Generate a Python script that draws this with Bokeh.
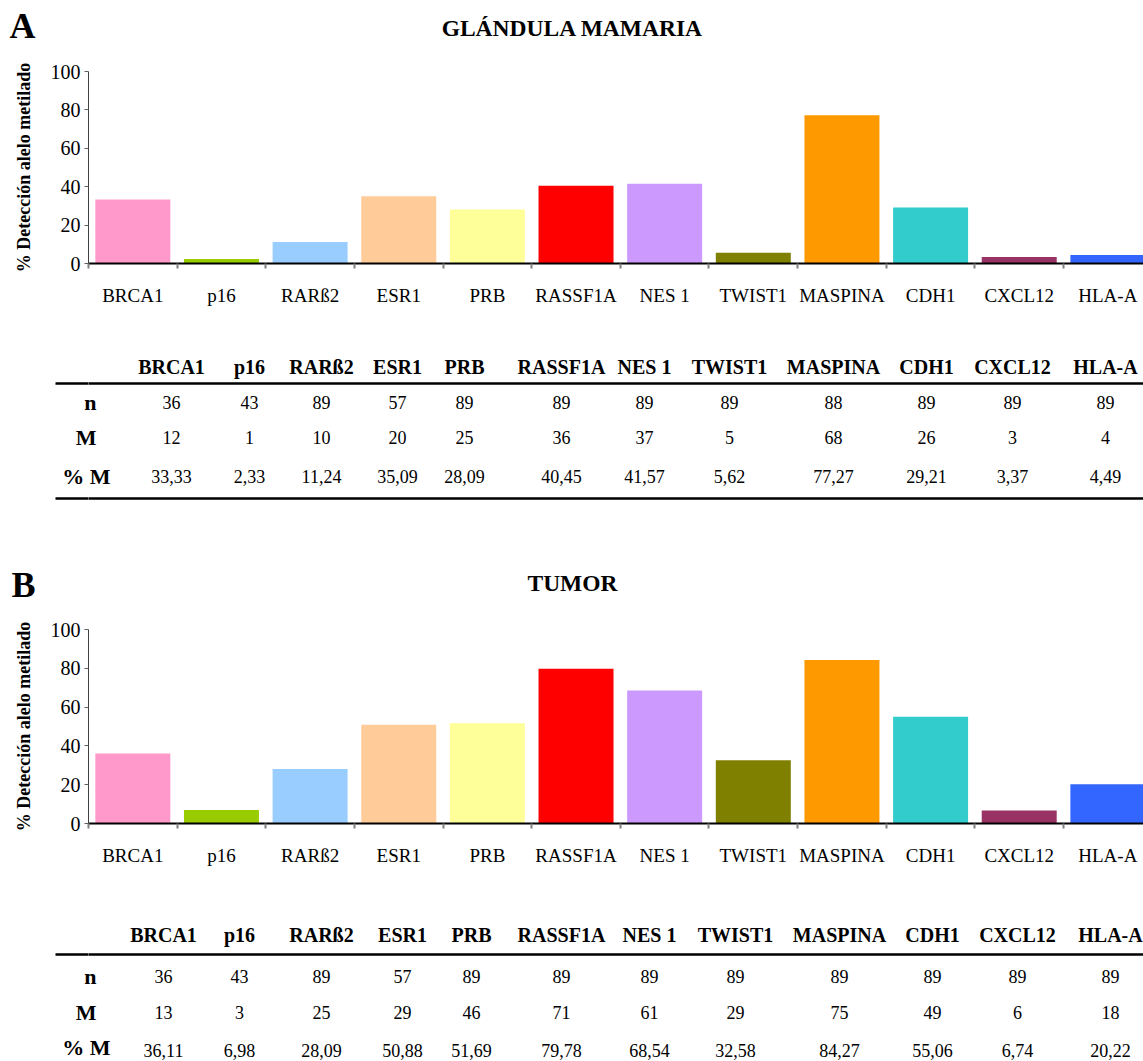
from bokeh.plotting import figure
from bokeh.layouts import column
from bokeh.models import (Range1d, FixedTicker, ColumnDataSource, LabelSet, LinearAxis)
from bokeh.core.properties import value
from bokeh.embed import file_html
from bokeh.resources import INLINE

# ---------------- data ----------------
genes = ["BRCA1", "p16", "RARß2", "ESR1", "PRB", "RASSF1A", "NES 1", "TWIST1",
         "MASPINA", "CDH1", "CXCL12", "HLA-A"]
colors = ["#FF99CC", "#99CC00", "#99CCFF", "#FFCC99", "#FFFF99", "#FF0000",
          "#CC99FF", "#808000", "#FF9900", "#33CCCC", "#993366", "#3366FF"]

n_a = [36, 43, 89, 57, 89, 89, 89, 89, 88, 89, 89, 89]
m_a = [12, 1, 10, 20, 25, 36, 37, 5, 68, 26, 3, 4]
pct_a = [33.33, 2.33, 11.24, 35.09, 28.09, 40.45, 41.57, 5.62, 77.27, 29.21, 3.37, 4.49]

n_b = [36, 43, 89, 57, 89, 89, 89, 89, 89, 89, 89, 89]
m_b = [13, 3, 25, 29, 46, 71, 61, 29, 75, 49, 6, 18]
pct_b = [36.11, 6.98, 28.09, 50.88, 51.69, 79.78, 68.54, 32.58, 84.27, 55.06, 6.74, 20.22]

row_labels = ["n", "M", "% M"]
y_ticks = [0, 20, 40, 60, 80, 100]

# ---------------- layout constants ----------------
W = 1143
LEFT = 88
SERIF = "Liberation Serif"
STUB = LEFT - 55  # length of the rule stubs left of the frame


def fmt(v):
    return f"{v:.2f}".replace(".", ",")


def blank(h):
    p = figure(width=W, height=h, x_range=Range1d(LEFT, W), y_range=Range1d(h, 0),
               x_axis_type=None, y_axis_type=None, toolbar_location=None,
               output_backend="svg", min_border_left=LEFT, min_border_right=0,
               min_border_top=0, min_border_bottom=0)
    p.grid.visible = False
    p.outline_line_color = None
    return p


def side_axis(p, ticks, texts, size, standoff, minor=None, minor_len=0):
    ax = LinearAxis(ticker=FixedTicker(ticks=ticks, minor_ticks=minor or []))
    ax.major_label_overrides = {t: s for t, s in zip(ticks, texts)}
    ax.axis_line_color = None
    ax.major_tick_line_color = None
    ax.major_tick_out = 0
    ax.major_tick_in = 0
    if minor:
        ax.minor_tick_line_color = "#000000"
        ax.minor_tick_line_width = 2.5
        ax.minor_tick_out = minor_len
        ax.minor_tick_in = 0
    else:
        ax.minor_tick_line_color = None
        ax.minor_tick_out = 0
    ax.major_label_text_font = SERIF
    ax.major_label_text_font_size = size
    ax.major_label_text_font_style = "bold"
    ax.major_label_text_color = "#000000"
    ax.major_label_standoff = standoff
    p.add_layout(ax, "left")
    return ax


def labels(p, xs, ys, texts, size, bold=False):
    src = ColumnDataSource(dict(x=xs, y=ys, t=texts))
    ls = LabelSet(x="x", y="y", text="t", source=src, text_font=value(SERIF),
                  text_font_size=value(size), text_font_style="bold" if bold else "normal",
                  text_align="center", text_baseline="middle", text_color="#000000")
    p.add_layout(ls)


def header(h, letter, ly, title, txy):
    p = blank(h)
    side_axis(p, [ly], [letter], "36px", 53)
    labels(p, [txy[0]], [txy[1]], [title], "23.5px", bold=True)
    return p


def chart(h, top, bottom, vals):
    cw = 88.64
    frame_w = W - LEFT
    p = figure(width=W, height=h, toolbar_location=None, output_backend="svg",
               x_range=Range1d(0, frame_w / cw), y_range=Range1d(0, 100),
               min_border_left=LEFT, min_border_right=0,
               min_border_top=top, min_border_bottom=bottom)
    p.grid.visible = False
    p.outline_line_color = None
    centers = [i + 0.5 for i in range(len(genes))]
    src = ColumnDataSource(dict(x=centers, top=vals, color=colors))
    p.vbar(x="x", top="top", width=0.846, bottom=0, fill_color="color",
           line_color=None, source=src)
    xa = p.xaxis[0]
    xa.ticker = FixedTicker(ticks=centers, minor_ticks=list(range(len(genes) + 1)))
    xa.major_label_overrides = {c: g for c, g in zip(centers, genes)}
    xa.major_tick_out = 0
    xa.major_tick_in = 0
    xa.minor_tick_out = 5
    xa.minor_tick_in = 0
    xa.minor_tick_line_color = "#808080"
    xa.minor_tick_line_width = 2
    xa.axis_line_color = "#000000"
    xa.axis_line_width = 2
    xa.major_label_text_font = SERIF
    xa.major_label_text_font_size = "19px"
    xa.major_label_text_color = "#000000"
    xa.major_label_standoff = 16
    ya = p.yaxis[0]
    ya.ticker = FixedTicker(ticks=y_ticks)
    ya.minor_tick_line_color = None
    ya.minor_tick_out = 0
    ya.major_tick_out = 4
    ya.major_tick_in = 0
    ya.major_tick_line_color = "#606060"
    ya.axis_line_color = "#404040"
    ya.major_label_text_font = SERIF
    ya.major_label_text_font_size = "20px"
    ya.major_label_text_color = "#000000"
    ya.major_label_standoff = 4
    ya.axis_label = "% Detección alelo metilado"
    ya.axis_label_text_font = SERIF
    ya.axis_label_text_font_style = "bold"
    ya.axis_label_text_font_size = "18px"
    ya.axis_label_text_color = "#000000"
    ya.axis_label_standoff = 14
    return p


def table(h, cols, ys, n, m, pct, bottom_line=None):
    p = blank(h)
    hy, ly, ny, my, py = ys
    k = len(cols)
    lines = [ly] if bottom_line is None else [ly, bottom_line]
    # inner axis: "n", "M" labels plus the left stubs of the rules (minor ticks)
    side_axis(p, [ny, my], row_labels[:2], "22px", -(STUB + 8), minor=lines, minor_len=STUB)
    # outer axis: "% M"
    side_axis(p, [py], row_labels[2:], "22px", -38)
    labels(p, cols, [hy] * k, genes, "20px", bold=True)
    p.segment(x0=[LEFT] * len(lines), y0=lines, x1=[W] * len(lines), y1=lines,
              line_color="#000000", line_width=2.5)
    labels(p, cols, [ny] * k, [str(v) for v in n], "18px")
    labels(p, cols, [my] * k, [str(v) for v in m], "18px")
    labels(p, cols, [py] * k, [fmt(v) for v in pct], "18px")
    return p


cols_a = [171, 249, 321, 397, 464, 561, 644, 729, 833, 926, 1012, 1105]
cols_b = [163, 239, 321, 402, 471, 561, 649, 735, 839, 932, 1017, 1110]

hA = header(50, "A", 25, "GLÁNDULA MAMARIA", (572, 27))
cA = chart(280, 21, 67, pct_a)
tA = table(210, cols_a, (36, 53, 72, 107, 146), n_a, m_a, pct_a, bottom_line=168)
hB = header(70, "B", 44, "TUMOR", (572, 42))
cB = chart(270, 19, 57, pct_b)
tB = table(181, cols_b, (54, 74, 96, 132, 170), n_b, m_b, pct_b)

layout = column(hA, cA, tA, hB, cB, tB, spacing=0)

with open("out.html", "w") as f:
    f.write(file_html(layout, INLINE))
